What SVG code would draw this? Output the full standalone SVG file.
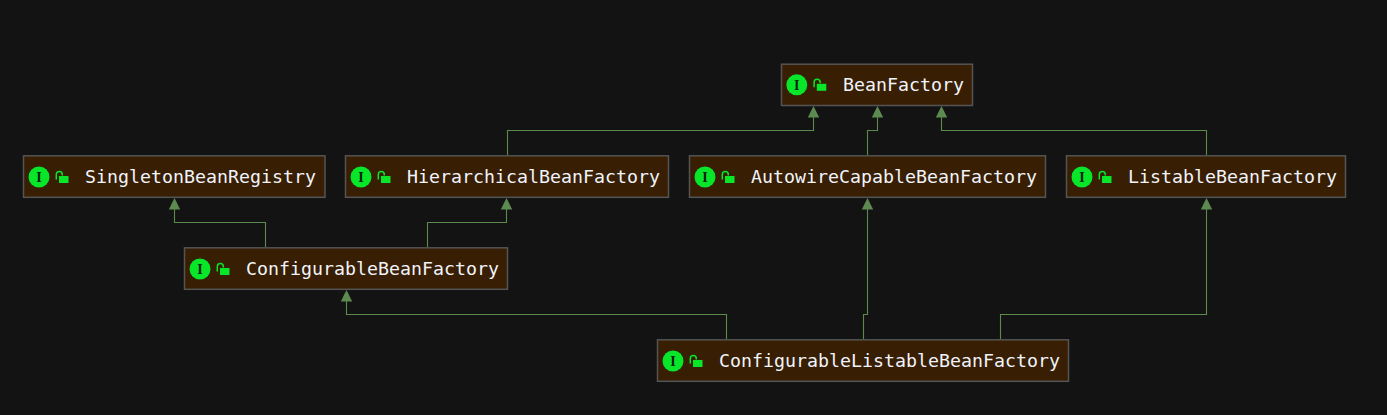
<svg xmlns="http://www.w3.org/2000/svg" width="1387" height="415" viewBox="0 0 1387 415">
<style>
.box{fill:#381e02;stroke:#545454;stroke-width:1.5}
.t{font-family:"DejaVu Sans Mono","Liberation Mono",monospace;font-size:18.5px;fill:#f0f4fa}
.c{fill:#08e62a}
.i{font-family:"Liberation Serif",serif;font-weight:bold;font-size:14px;fill:#0c2410;text-anchor:middle}
.l{fill:none;stroke:#08e62a;stroke-width:1.5}
.e{fill:none;stroke:#5a8a4c;stroke-width:1.1}
.a{fill:#5c8a50}
</style>
<defs>
<g id="icons">
<circle class="c" cx="0" cy="0" r="10.500"/>
<text class="i" x="0" y="4.800">I</text>
<rect class="c" x="20" y="-1" width="9.500" height="7"/>
<path class="l" d="M17.300 2.500V-2.500a3 3 0 0 1 6 0V-1.500"/>
</g>
</defs>
<rect width="1387" height="415" fill="#131313"/>
<g id="connectors">
<path class="e" d="M507.500 155V130.500H813.500V115"/>
<path class="e" d="M867.500 155V130.500H877.500V115"/>
<path class="e" d="M1206.500 155V130.500H941.500V115"/>
<path class="e" d="M265.500 247V222.500H174.500V207"/>
<path class="e" d="M427.500 247V222.500H506.500V207"/>
<path class="e" d="M726.500 339V314.500H346.500V299"/>
<path class="e" d="M863.500 339V314.500H867.500V207"/>
<path class="e" d="M1000.500 339V314.500H1206.500V207"/>
<path class="a" d="M813.500 106l-5.700 11.500h11.400z"/>
<path class="a" d="M877.500 106l-5.700 11.500h11.400z"/>
<path class="a" d="M941.500 106l-5.700 11.500h11.400z"/>
<path class="a" d="M174.500 198l-5.700 11.500h11.400z"/>
<path class="a" d="M506.500 198l-5.700 11.500h11.400z"/>
<path class="a" d="M867.500 198l-5.700 11.500h11.400z"/>
<path class="a" d="M1206.500 198l-5.700 11.500h11.400z"/>
<path class="a" d="M346.500 290l-5.700 11.500h11.400z"/>
</g>
<g id="BeanFactory"><rect class="box" x="781.500" y="64.200" width="191" height="41.300"/><use href="#icons" x="796.800" y="84.800"/><text class="t" x="843" y="91" textLength="121" lengthAdjust="spacingAndGlyphs">BeanFactory</text></g>
<g id="SingletonBeanRegistry"><rect class="box" x="23.500" y="155.800" width="301.500" height="41.500"/><use href="#icons" x="39" y="177"/><text class="t" x="85" y="183" textLength="231" lengthAdjust="spacingAndGlyphs">SingletonBeanRegistry</text></g>
<g id="HierarchicalBeanFactory"><rect class="box" x="345.500" y="155.800" width="323" height="41.500"/><use href="#icons" x="361" y="177"/><text class="t" x="407" y="183" textLength="253" lengthAdjust="spacingAndGlyphs">HierarchicalBeanFactory</text></g>
<g id="AutowireCapableBeanFactory"><rect class="box" x="689.500" y="155.800" width="356" height="41.500"/><use href="#icons" x="705" y="177"/><text class="t" x="751" y="183" textLength="286" lengthAdjust="spacingAndGlyphs">AutowireCapableBeanFactory</text></g>
<g id="ListableBeanFactory"><rect class="box" x="1066.500" y="155.800" width="279" height="41.500"/><use href="#icons" x="1082" y="177"/><text class="t" x="1128" y="183" textLength="209" lengthAdjust="spacingAndGlyphs">ListableBeanFactory</text></g>
<g id="ConfigurableBeanFactory"><rect class="box" x="184.500" y="247.800" width="323" height="41.500"/><use href="#icons" x="200" y="269"/><text class="t" x="246" y="275" textLength="253" lengthAdjust="spacingAndGlyphs">ConfigurableBeanFactory</text></g>
<g id="ConfigurableListableBeanFactory"><rect class="box" x="657.500" y="339.800" width="411" height="41.500"/><use href="#icons" x="673" y="361"/><text class="t" x="719" y="367" textLength="341" lengthAdjust="spacingAndGlyphs">ConfigurableListableBeanFactory</text></g>
</svg>
